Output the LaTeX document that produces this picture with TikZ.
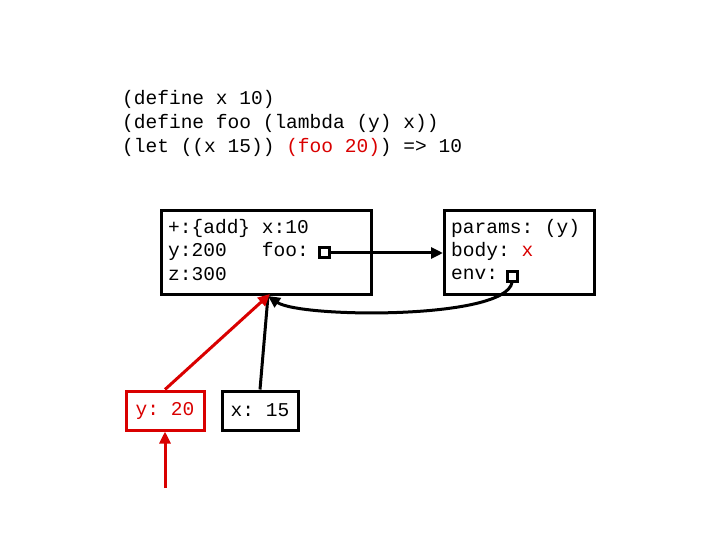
\documentclass[tikz,border=0pt]{standalone}
\usepackage{fontspec}
\setmonofont{Liberation Mono}
\usetikzlibrary{arrows.meta}
\begin{document}
\begin{tikzpicture}[x=1bp,y=-1bp,
  txt/.style={font=\fontsize{19.6}{24}\ttfamily,anchor=west,inner sep=0pt},
  frame/.style={draw,line width=3bp},
  sq/.style={draw,line width=3bp,minimum size=10bp,inner sep=0pt,fill=white},
  arr/.style={line width=3bp,-{Triangle[length=12bp,width=11bp]}}]
\useasboundingbox (0,0) rectangle (720,540);
\node[txt] (c1) at (122,99) {(define x 10)};
\node[txt] (c2) at (122,123) {(define foo (lambda (y) x))};
\node[txt] (c3) at (122,147) {(let ((x 15)) \textcolor{red!85!black}{(foo 20)}) => 10};
\draw[frame] (161,211) rectangle (371,294);
\coordinate (b1) at (268,296);
\node[txt] (t1) at (168,228) {+:\{add\} x:10};
\node[txt] (t2) at (168,251) {y:200\ \ \ foo:};
\node[txt] (t3) at (168,274) {z:300};
\node[sq] (foo) at (324,253) {};
\draw[frame] (444,211) rectangle (594,294);
\coordinate (b2) at (443,253);
\node[txt] (p1) at (451,228) {params: (y)};
\node[txt] (p2) at (451,251) {body: \textcolor{red!85!black}{x}};
\node[txt] (p3) at (451,274) {env:};
\node[sq] (env) at (512,276) {};
\node[frame,draw=red!85!black,minimum width=78bp,minimum height=39bp,inner sep=0pt,font=\fontsize{19.6}{24}\ttfamily] (y) at (165,410.5) {\textcolor{red!85!black}{y: 20}};
\node[frame,minimum width=76bp,minimum height=39bp,inner sep=0pt,font=\fontsize{19.6}{24}\ttfamily] (x) at (260,410.5) {x: 15};
\coordinate (s) at (165,488);
\draw[arr] (foo) -- (b2);
\draw[arr] (env.south) .. controls (505,320) and (300,318) .. (b1);
\draw[line width=3bp] (x.north) -- (b1);
\draw[arr,red!85!black] (y.north) -- (270,294);
\draw[arr,red!85!black] (s) -- (y.south);
\end{tikzpicture}
\end{document}
